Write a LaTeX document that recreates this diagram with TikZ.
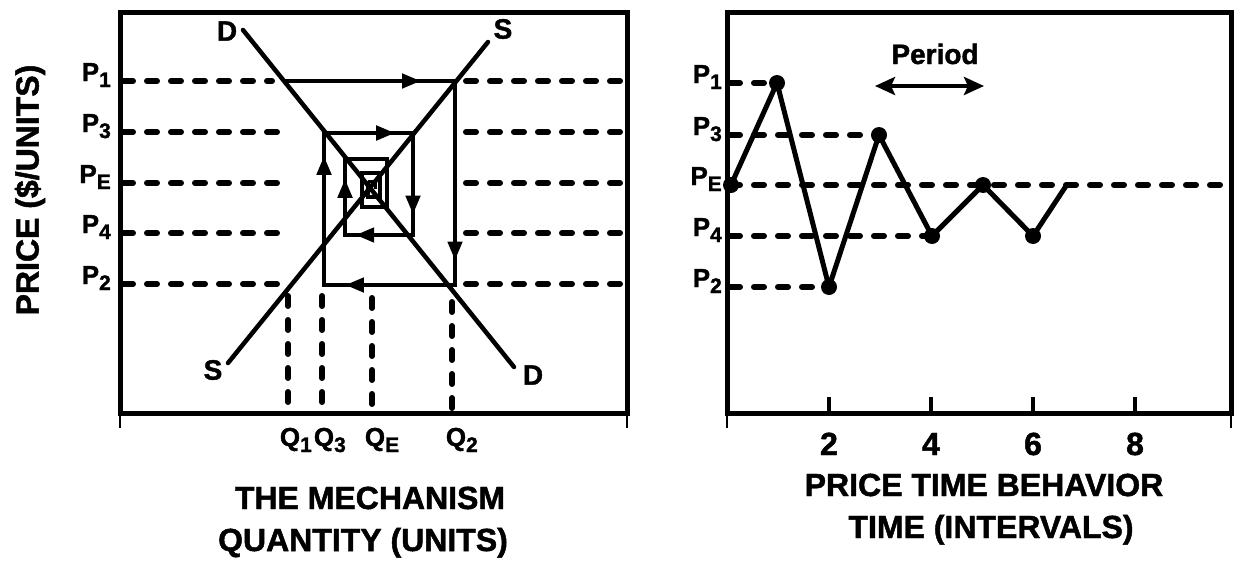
\documentclass[tikz,border=0pt]{standalone}
\usepackage{fontspec}
\setmainfont{Liberation Sans}[BoldFeatures={FakeBold=1.5}]
\usetikzlibrary{arrows.meta,decorations.markings}
\newcommand\sbs[1]{\raisebox{-6pt}{\fontsize{21}{21}\selectfont #1}}
\tikzset{
  frame/.style={line width=5pt, line join=miter},
  endtick/.style={line width=2.5pt},
  curve/.style={line width=4.5pt, line cap=round},
  web/.style={line width=4.5pt, line join=miter},
  dsh/.style={line width=6pt, line cap=round, dash pattern=on 10pt off 14pt},
  arr/.style={postaction={decorate,decoration={markings,mark=at position #1 with {\arrow{Triangle[length=19pt,width=14pt]}}}}},
  lbl/.style={font=\bfseries\fontsize{26}{26}\selectfont, inner sep=0pt},
  ttl/.style={font=\bfseries\fontsize{32}{32}\selectfont, inner sep=0pt},
  dot/.style={circle, fill=black, minimum size=16pt, inner sep=0pt},
}
\begin{document}
\begin{tikzpicture}[x=1pt,y=-1pt]
\useasboundingbox (0,0) rectangle (1236,565);
% ---------------- left panel ----------------
\draw[frame] (120,12) rectangle (627,413);
\draw[endtick] (120,413) -- (120,428) (627,413) -- (627,428);
% dashed price levels
\foreach \y/\xe in {81/272, 132/290, 183/290, 233/290, 284/290}{
  \draw[dsh] (123,\y) -- (\xe,\y);
  \draw[dsh] (466,\y) -- (620,\y);
}
% dashed quantity levels
\foreach \x/\ys in {288/296, 322/296, 372/298, 452/302}
  \draw[dsh] (\x,\ys) -- (\x,408);
% demand and supply
\coordinate (Dt) at (243,30); \coordinate (Db) at (514,367);
\coordinate (St) at (488,42); \coordinate (Sb) at (228,363);
\draw[curve] (Dt) -- (Db);
\draw[curve] (Sb) -- (St);
\node[lbl,font=\bfseries\fontsize{28}{28}\selectfont] (dtop) at (227,31) {D};
\node[lbl,font=\bfseries\fontsize{28}{28}\selectfont] (stop) at (503,29) {S};
\node[lbl,font=\bfseries\fontsize{28}{28}\selectfont] (sbot) at (213,370) {S};
\node[lbl,font=\bfseries\fontsize{28}{28}\selectfont] (dbot) at (533,375) {D};
% cobweb
\coordinate (c1) at (285,81);  \coordinate (c2) at (455,81);
\coordinate (c3) at (455,285); \coordinate (c4) at (324,285);
\coordinate (c5) at (324,133); \coordinate (c6) at (413,133);
\coordinate (c7) at (413,235); \coordinate (c8) at (345,235);
\coordinate (c9) at (345,159);
\draw[web] (c1) -- (c2) -- (c3) -- (c4) -- (c5) -- (c6) -- (c7) -- (c8) -- (c9)
  -- (387,159) -- (387,207) -- (362,207) -- (362,173) -- (380,173) -- (380,197)
  -- (368,197) -- (368,181);
\draw[line width=3pt] (368,181) -- (375,181) -- (375,189);
\draw[web,arr=0.8]  (c1) -- (c2);
\draw[web,arr=0.88] (c2) -- (c3);
\draw[web,arr=0.84] (c3) -- (c4);
\draw[web,arr=0.85] (c4) -- (c5);
\draw[web,arr=0.8]  (c5) -- (c6);
\draw[web,arr=0.8]  (c6) -- (c7);
\draw[web,arr=0.85] (c7) -- (c8);
\draw[web,arr=0.74] (c8) -- (c9);
% price labels
\node[lbl,anchor=base east] (lp1) at (111,81)  {P\sbs{1}};
\node[lbl,anchor=base east] (lp3) at (111,132) {P\sbs{3}};
\node[lbl,anchor=base east] (lpe) at (111,183) {P\sbs{E}};
\node[lbl,anchor=base east] (lp4) at (111,233) {P\sbs{4}};
\node[lbl,anchor=base east] (lp2) at (111,284) {P\sbs{2}};
% quantity labels
\node[lbl,anchor=base] (q1) at (290,446) {Q\rlap{\sbs{1}}};
\node[lbl,anchor=base] (q3) at (324,446) {Q\rlap{\sbs{3}}};
\node[lbl,anchor=base] (qe) at (375,446) {Q\rlap{\sbs{E}}};
\node[lbl,anchor=base] (q2) at (456,446) {Q\rlap{\sbs{2}}};
\node[ttl,rotate=90] (ylab) at (30,190) {PRICE (\$/UNITS)};
\node[ttl,anchor=base] (t1) at (370,509) {THE MECHANISM};
\node[ttl,anchor=base] (t2) at (363,551) {QUANTITY (UNITS)};
% ---------------- right panel ----------------
\draw[frame] (727,12) rectangle (1231,413);
\draw[endtick] (727,413) -- (727,428) (1231,413) -- (1231,428);
\foreach \x/\n in {829/2, 931/4, 1033/6, 1135/8}{
  \draw[line width=4pt] (\x,397) -- (\x,413);
  \node[ttl,anchor=base] (tk\n) at (\x,455) {\n};
}
\coordinate (r0) at (731,185); \coordinate (r1) at (777,83);
\coordinate (r2) at (829,287); \coordinate (r3) at (879,135);
\coordinate (r4) at (932,236); \coordinate (r5) at (983,185);
\coordinate (r6) at (1033,236); \coordinate (r7) at (1066,186);
\draw[dsh] (730,83) -- (r1);
\draw[dsh] (730,135) -- (r3);
\draw[dsh] (730,185) -- (1226,185);
\draw[dsh] (730,236) -- (r4);
\draw[dsh] (730,287) -- (r2);
\draw[line width=5pt, line join=round, line cap=round]
  (r0) -- (r1) -- (r2) -- (r3) -- (r4) -- (r5) -- (r6) -- (r7);
\foreach \i in {0,...,6} \node[dot] (d\i) at (r\i) {};
\node[lbl,anchor=base east] (rp1) at (722,83)  {P\sbs{1}};
\node[lbl,anchor=base east] (rp3) at (722,135) {P\sbs{3}};
\node[lbl,anchor=base east] (rpe) at (722,185) {P\sbs{E}};
\node[lbl,anchor=base east] (rp4) at (722,236) {P\sbs{4}};
\node[lbl,anchor=base east] (rp2) at (722,287) {P\sbs{2}};
% period
\coordinate (pa) at (875,86); \coordinate (pb) at (984,86);
\draw[line width=4.5pt, {Stealth[length=20pt,width=18pt,inset=4pt]}-{Stealth[length=20pt,width=18pt,inset=4pt]}] (pa) -- (pb);
\node[font=\bfseries\fontsize{28}{28}\selectfont, inner sep=0pt, anchor=base] (per) at (935,64) {Period};
\node[ttl,anchor=base] (t3) at (984,496) {PRICE TIME BEHAVIOR};
\node[ttl,anchor=base] (t4) at (991,538) {TIME (INTERVALS)};
\end{tikzpicture}
\end{document}
